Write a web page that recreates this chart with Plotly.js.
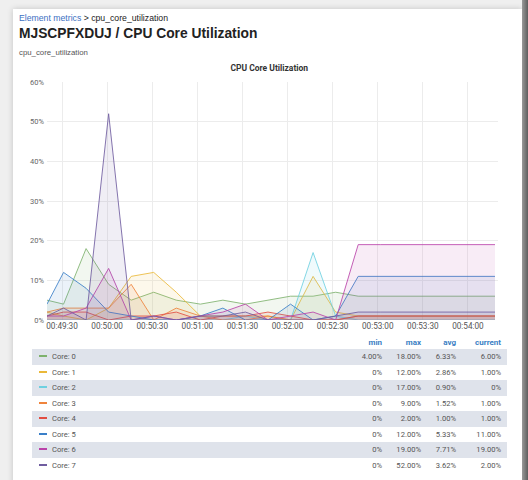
<!DOCTYPE html>
<html>
<head>
<meta charset="utf-8">
<script src="https://cdn.plot.ly/plotly-3.0.1.min.js"></script>
<style>
  html, body { margin:0; padding:0; }
  body { width:528px; height:480px; overflow:hidden; background:#efefef; position:relative; font-family:"Liberation Sans", Arial, sans-serif; }
  #card { position:absolute; left:13px; top:9px; width:509px; height:480px; background:#fff; box-shadow:0 0 6px rgba(0,0,0,0.18); }
  #rightband { position:absolute; left:522px; top:0; width:6px; height:480px; background:linear-gradient(to right,#9a9a9a,#5e5e5e); }
  .abs { position:absolute; white-space:nowrap; }
  #crumb { left:19px; top:12px; font-size:8.7px; line-height:12px; color:#222; }
  #crumb a { color:#3b6fc2; text-decoration:none; }
  #h1 { left:19px; top:24px; font-size:13.8px; font-weight:bold; line-height:20px; color:#222; }
  #sub { left:19px; top:47px; font-size:7.8px; line-height:11px; color:#555; }
  #chart { position:absolute; left:0; top:0; width:528px; height:345px; }
  table { position:absolute; left:32px; top:336px; width:475px; border-collapse:collapse; font-family:Roboto, sans-serif; font-size:7.6px; color:#555; }
  th { color:#3a80c4; font-weight:bold; text-align:right; height:13px; padding:0; font-size:8px; }
  td { height:15.5px; padding:0; text-align:right; }
  td.name { text-align:left; padding-left:7px; }
  tr.band td { background:#dfe3eb; }
  .sw { display:inline-block; width:8px; height:2px; vertical-align:middle; margin-right:5px; position:relative; top:-1px; }
</style>
</head>
<body>
<div id="card"></div>
<div id="rightband"></div>
<div id="crumb" class="abs"><a>Element metrics</a> &gt; cpu_core_utilization</div>
<div id="h1" class="abs">MJSCPFXDUJ / CPU Core Utilization</div>
<div id="sub" class="abs">cpu_core_utilization</div>
<div id="chart"></div>
<table id="legend"></table>
<script>
const times = ['00:49:20','00:49:31','00:49:46','00:50:01','00:50:16','00:50:31','00:50:46','00:51:02','00:51:17','00:51:32','00:51:47','00:52:02','00:52:17','00:52:32','00:52:47','00:53:02','00:53:17','00:53:33','00:53:48','00:54:03','00:54:18'];
const seriesNames = ['Core: 0','Core: 1','Core: 2','Core: 3','Core: 4','Core: 5','Core: 6','Core: 7'];
const core0 = [5,4,18,9,5,7,5,4,5,4,5,6,6,7,6,6,6,6,6,6,6];
const core1 = [2,1,0,3,11,12,7,1,1,1,1,0,11,2,1,1,1,1,1,1,1];
const core2 = [0,0,0,0,0,0,0,0,0,1,0,0,17,1,0,0,0,0,0,0,0];
const core3 = [2,3,3,3,9,0,3,1,0,0,1,0,0,0,1,1,1,1,1,1,1];
const core4 = [1,2,2,0,1,1,2,0,1,1,2,1,0,0,1,1,1,1,1,1,1];
const core5 = [4,12,8,2,1,0,0,1,3,0,0,4,0,1,11,11,11,11,11,11,11];
const core6 = [1,1,3,13,0,1,0,1,2,4,0,1,2,0,19,19,19,19,19,19,19];
const core7 = [1,3,0,52,0,1,0,1,1,2,0,0,0,1,2,2,2,2,2,2,2];
const colors = ['#7EB26D','#EAB839','#6ED0E0','#EF843C','#E24D42','#3A7FC8','#BA43A9','#705DA0'];
const statMin = ['4.00%','0%','0%','0%','0%','0%','0%','0%'];
const statMax = ['18.00%','12.00%','17.00%','9.00%','2.00%','12.00%','19.00%','52.00%'];
const statAvg = ['6.33%','2.86%','0.90%','1.52%','1.00%','5.33%','7.71%','3.62%'];
const statCur = ['6.00%','1.00%','0%','1.00%','1.00%','11.00%','19.00%','2.00%'];
const xTickVals = ['00:49:30','00:50:00','00:50:30','00:51:00','00:51:30','00:52:00','00:52:30','00:53:00','00:53:30','00:54:00'];

const day = '2024-01-01 ';
const allSeries = [core0,core1,core2,core3,core4,core5,core6,core7];
function hexA(h,a){const r=parseInt(h.slice(1,3),16),g=parseInt(h.slice(3,5),16),b=parseInt(h.slice(5,7),16);return `rgba(${r},${g},${b},${a})`;}
const traces = allSeries.map((s,i)=>({
  x: times.map(t=>day+t), y: s, name: seriesNames[i], type:'scatter', mode:'lines',
  line:{color:hexA(colors[i],0.85), width:1}, fill:'tozeroy', fillcolor:hexA(colors[i],0.1)
}));
const layout = {
  width:528, height:345,
  margin:{l:47, r:30, t:82, b:25},
  paper_bgcolor:'rgba(0,0,0,0)', plot_bgcolor:'rgba(0,0,0,0)',
  showlegend:false,
  title:{text:'CPU Core Utilization', xref:'container', x:0.51, xanchor:'center', yref:'container', y:1-68/345, yanchor:'middle',
         font:{family:'Roboto, sans-serif', size:8.5, color:'#333', weight:'bold'}},
  xaxis:{type:'date', range:[day+'00:49:20', day+'00:54:20'], tickvals:xTickVals.map(t=>day+t), ticktext:xTickVals,
         showgrid:true, gridcolor:'#ececec', gridwidth:1, zeroline:false, showline:false, ticks:'',
         tickfont:{family:'Roboto, sans-serif', size:8.2, color:'#555'}},
  yaxis:{range:[0,60], dtick:10, ticksuffix:'%', showgrid:true, gridcolor:'#ececec', zeroline:false, showline:false, ticks:'',
         tickfont:{family:'Roboto, sans-serif', size:7.5, color:'#666'}, ticklabelstandoff:2}
};
Plotly.newPlot('chart', traces, layout, {staticPlot:true, displayModeBar:false});

const tbl = document.getElementById('legend');
let html = '<tr><th style="text-align:left"></th><th>min</th><th>max</th><th>avg</th><th style="padding-right:6px">current</th></tr>';
seriesNames.forEach((n,i)=>{
  html += `<tr class="${i%2===0?'band':''}"><td class="name"><span class="sw" style="background:${colors[i]}"></span>${n}</td>`+
          `<td style="width:60px">${statMin[i]}</td><td style="width:39px">${statMax[i]}</td><td style="width:35px">${statAvg[i]}</td><td style="width:45px;padding-right:6px">${statCur[i]}</td></tr>`;
});
tbl.innerHTML = html;
</script>
</body>
</html>
